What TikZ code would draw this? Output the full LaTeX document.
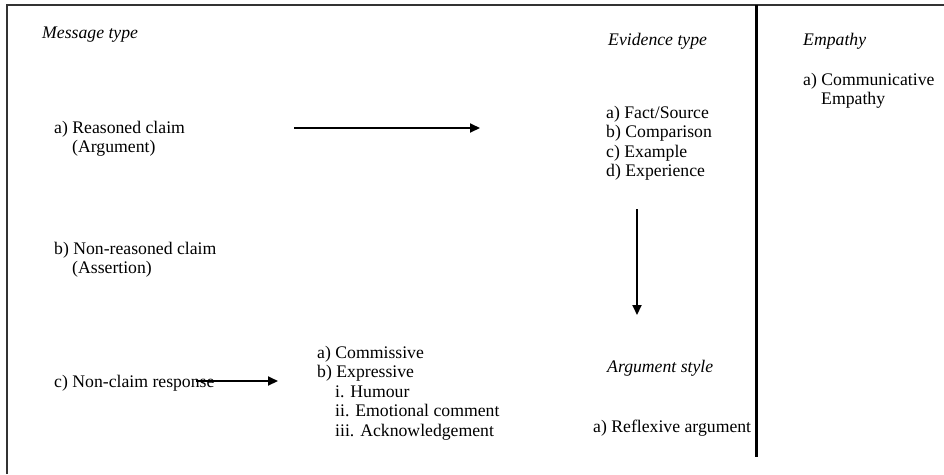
\documentclass[tikz,border=0pt]{standalone}
\usepackage{fontspec}
\setmainfont{Liberation Serif}
\usetikzlibrary{positioning, arrows.meta}

\tikzset{
  txt/.style={anchor=base west, inner sep=0pt, align=left, font=\fontsize{17.7}{19.6}\selectfont},
  head/.style={txt, font=\fontsize{17.7}{19.6}\selectfont\itshape},
}
\newcommand{\ind}{\hspace*{18pt}}

\begin{document}
\begin{tikzpicture}[x=1pt, y=-1pt, >={Triangle[length=10pt,width=9pt]}]
        \useasboundingbox (0,0) rectangle (944,474);
        \draw[line width=1.3pt, black!80] (7,474) -- (7,5) -- (944,5);
        \draw[line width=3pt] (756,5) -- (756,457);

        % multi-line nodes sit on the baseline of their last line
        \node[head] (item 0) at (42,38) {Message type};
        \node[txt] (item 1) at (54,152.6) {a) Reasoned claim\\\ind(Argument)};
        \node[txt] (item 2) at (54,273.6) {b) Non-reasoned claim\\\ind(Assertion)};
        \node[txt] (item 3) at (54,387) {c) Non-claim response};
        \node[txt] (item 4) at (317,436.4) {a) Commissive\\b) Expressive\\\ind i. Humour\\\ind ii. Emotional comment\\\ind iii. Acknowledgement};

        \node[head] (item 5) at (608,45) {Evidence type};
        \node[txt] (item 6) at (606,176.8) {a) Fact/Source\\b) Comparison\\c) Example\\d) Experience};
        \node[head] (item 7) at (607,372) {Argument style};
        \node[txt] (item 8) at (593,432) {a) Reflexive argument};

        \node[head] (item 9) at (803,45) {Empathy};
        \node[txt] (item 10) at (803,104.6) {a) Communicative\\\ind Empathy};

        \coordinate (arr 0) at (294,128);
        \coordinate (arr 1) at (480,128);
        \coordinate (arr 2) at (637,209);
        \coordinate (arr 3) at (637,315);
        \coordinate (arr 4) at (196,381);
        \coordinate (arr 5) at (278,381);

        \foreach \i/\j in {0/1, 2/3, 4/5}
        \draw[->, line width=2pt] (arr \i) -- (arr \j);
\end{tikzpicture}
\end{document}
